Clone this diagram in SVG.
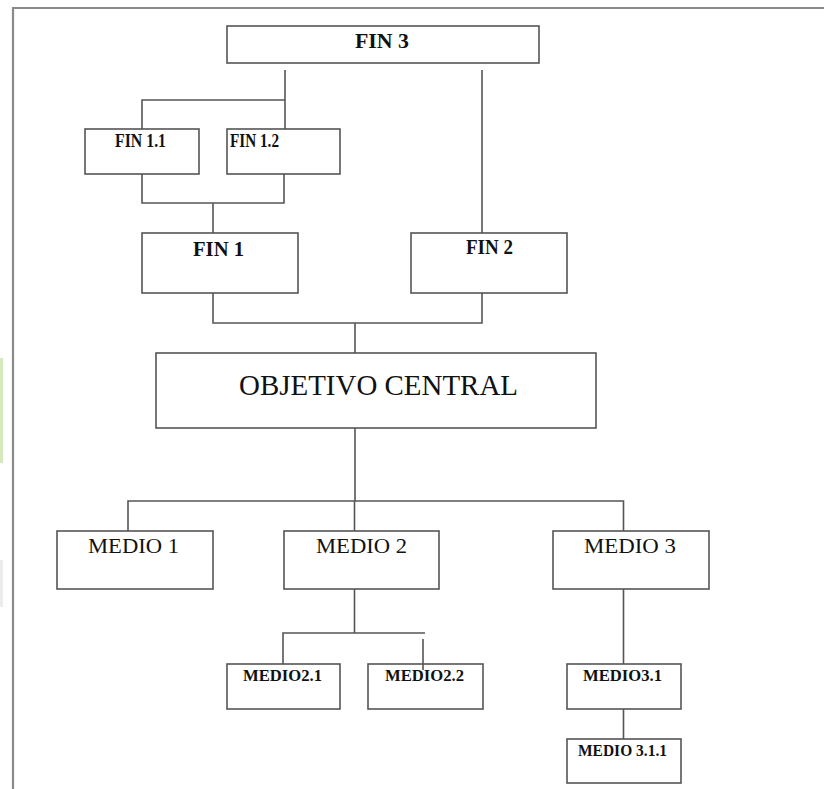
<svg xmlns="http://www.w3.org/2000/svg" width="824" height="789" viewBox="0 0 824 789">
<style>
.box{fill:#fff;stroke:#555;stroke-width:1.6}
.con{fill:none;stroke:#555;stroke-width:1.6}
.t{font-family:"Liberation Serif","Times New Roman",serif;fill:#111}
.b{font-weight:bold}
</style>
<rect width="824" height="789" fill="#fff"/>
<rect x="0" y="358" width="3" height="105" fill="#d6e9be"/>
<rect x="0" y="560" width="3" height="47" fill="#ececec"/>
<path d="M13 789 V8 H824" fill="none" stroke="#8a8a8a" stroke-width="2.2"/>
<g id="connectors" class="con">
<path d="M285 70 V129 M142 129 V100 H285"/>
<path d="M482 70 V233"/>
<path d="M142 174 V203 H284 V174 M213 203 V233"/>
<path d="M213 293 V323 H482 V293 M355 323 V353"/>
<path d="M355 428 V501 M128 531 V501 H623.5 V531 M354.5 501 V531"/>
<path d="M354.5 589 V633 M283 664 V633 H425 M423 639 V670"/>
<path d="M623.5 589 V664 M623.5 709 V739"/>
</g>
<g id="fin3"><rect class="box" x="227" y="26" width="312" height="37"/><text class="t b" x="355" y="47.5" font-size="20" textLength="54" lengthAdjust="spacingAndGlyphs">FIN 3</text></g>
<g id="fin11"><rect class="box" x="85" y="129" width="114" height="45"/><text class="t b" x="115" y="147" font-size="18" textLength="51" lengthAdjust="spacingAndGlyphs">FIN 1.1</text></g>
<g id="fin12"><rect class="box" x="227" y="129" width="113" height="45"/><text class="t b" x="230" y="147" font-size="18" textLength="49" lengthAdjust="spacingAndGlyphs">FIN 1.2</text></g>
<g id="fin1"><rect class="box" x="142" y="233" width="156" height="60"/><text class="t b" x="193" y="256" font-size="21" textLength="51" lengthAdjust="spacingAndGlyphs">FIN 1</text></g>
<g id="fin2"><rect class="box" x="411" y="233" width="156" height="60"/><text class="t b" x="466" y="254" font-size="20" textLength="47" lengthAdjust="spacingAndGlyphs">FIN 2</text></g>
<g id="objetivo"><rect class="box" x="156" y="353" width="440" height="75"/><text class="t" x="239" y="395" font-size="29" textLength="279" lengthAdjust="spacingAndGlyphs">OBJETIVO CENTRAL</text></g>
<g id="medio1"><rect class="box" x="57" y="531" width="156" height="58"/><text class="t" x="88" y="553" font-size="21" textLength="91" lengthAdjust="spacingAndGlyphs">MEDIO 1</text></g>
<g id="medio2"><rect class="box" x="284" y="531" width="155" height="58"/><text class="t" x="316" y="553" font-size="21" textLength="91" lengthAdjust="spacingAndGlyphs">MEDIO 2</text></g>
<g id="medio3"><rect class="box" x="553" y="531" width="156" height="58"/><text class="t" x="584" y="553" font-size="21" textLength="92" lengthAdjust="spacingAndGlyphs">MEDIO 3</text></g>
<g id="medio21"><rect class="box" x="227" y="664" width="113" height="45"/><text class="t b" x="243" y="681" font-size="17" textLength="79" lengthAdjust="spacingAndGlyphs">MEDIO2.1</text></g>
<g id="medio22"><rect class="box" x="368" y="664" width="115" height="45"/><text class="t b" x="385" y="681" font-size="17" textLength="79" lengthAdjust="spacingAndGlyphs">MEDIO2.2</text></g>
<path d="M423 664 V670" class="con"/>
<g id="medio31"><rect class="box" x="567" y="664" width="114" height="45"/><text class="t b" x="583" y="681" font-size="17" textLength="79" lengthAdjust="spacingAndGlyphs">MEDIO3.1</text></g>
<g id="medio311"><rect class="box" x="567" y="739" width="114" height="44"/><text class="t b" x="578" y="756" font-size="17" textLength="89" lengthAdjust="spacingAndGlyphs">MEDIO 3.1.1</text></g>
</svg>
